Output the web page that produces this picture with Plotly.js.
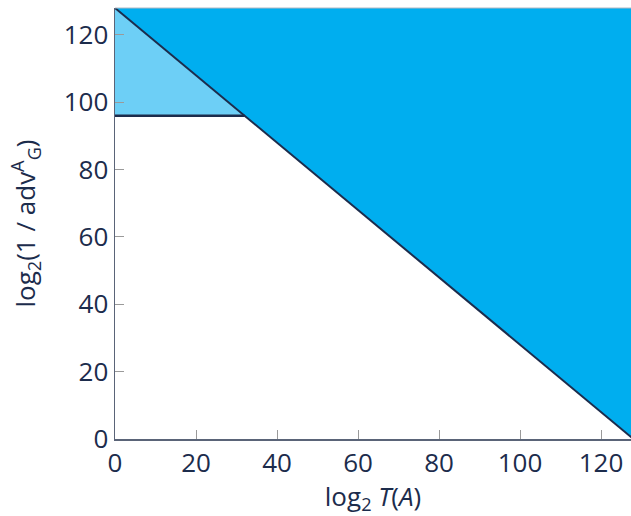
<!DOCTYPE html>
<html>
<head>
<meta charset="utf-8">
<script src="https://cdn.plot.ly/plotly-3.0.1.min.js"></script>
<style>html,body{margin:0;padding:0;background:#fff;}#chart{width:631px;height:516px;}</style>
</head>
<body>
<div id="chart"></div>
<script>
// Data
const boundX = [0, 128];          // log2 T(A)
const boundY = [128, 0];          // log2(1/adv) bound line
const thresholdY = [96, 96];      // horizontal threshold
const thresholdX = [0, 32];
const upperRegionX = [0, 128, 128, 0];
const upperRegionY = [128, 128, 0, 128];
const lightRegionX = [0, 32, 0, 0];
const lightRegionY = [96, 96, 128, 96];
const tickVals = [0, 20, 40, 60, 80, 100, 120];

const navy = '#1c2c4c';
const traces = [
  {x: upperRegionX, y: upperRegionY, type: 'scatter', mode: 'lines', fill: 'toself',
   fillcolor: '#00aeef', line: {width: 0}, hoverinfo: 'skip', showlegend: false},
  {x: lightRegionX, y: lightRegionY, type: 'scatter', mode: 'lines', fill: 'toself',
   fillcolor: '#6dcff6', line: {width: 0}, hoverinfo: 'skip', showlegend: false},
  {x: boundX, y: boundY, type: 'scatter', mode: 'lines',
   line: {color: navy, width: 2}, showlegend: false},
  {x: thresholdX, y: thresholdY, type: 'scatter', mode: 'lines',
   line: {color: navy, width: 2.5}, showlegend: false}
];

const fontFam = '"Open Sans", "Noto Sans", sans-serif';
const layout = {
  width: 631, height: 516,
  margin: {l: 115, r: 0, t: 8, b: 77},
  paper_bgcolor: '#fff', plot_bgcolor: '#fff',
  font: {family: fontFam, color: navy, size: 26},
  showlegend: false,
  xaxis: {
    range: [0, 127.4], tickvals: tickVals, ticks: 'inside', ticklen: 9, tickcolor: '#9a9a9a',
    tickwidth: 1, showgrid: false, zeroline: false, showline: true, linecolor: '#5a6478', linewidth: 1.5,
    tickfont: {size: 26, color: navy},
    title: {text: 'log<sub>2</sub> <i>T</i>(<i>A</i>)', font: {size: 26, color: navy}, standoff: 8}
  },
  yaxis: {
    range: [0, 128], tickvals: tickVals, ticks: 'inside', ticklen: 9, tickcolor: '#9a9a9a',
    tickwidth: 1, showgrid: false, zeroline: false, showline: true, linecolor: '#5a6478', linewidth: 1.5,
    tickfont: {size: 26, color: navy},
    title: {text: 'log<sub>2</sub>(1 / adv<sup>A</sup><sub>G</sub>)', font: {size: 26, color: navy}, standoff: 20}
  },
  shapes: [
    {type: 'line', xref: 'paper', yref: 'paper', x0: 0, x1: 1, y0: 1, y1: 1,
     line: {color: '#b0b8c4', width: 1}}
  ]
};

Plotly.newPlot('chart', traces, layout, {displayModeBar: false, staticPlot: true});
</script>
</body>
</html>
